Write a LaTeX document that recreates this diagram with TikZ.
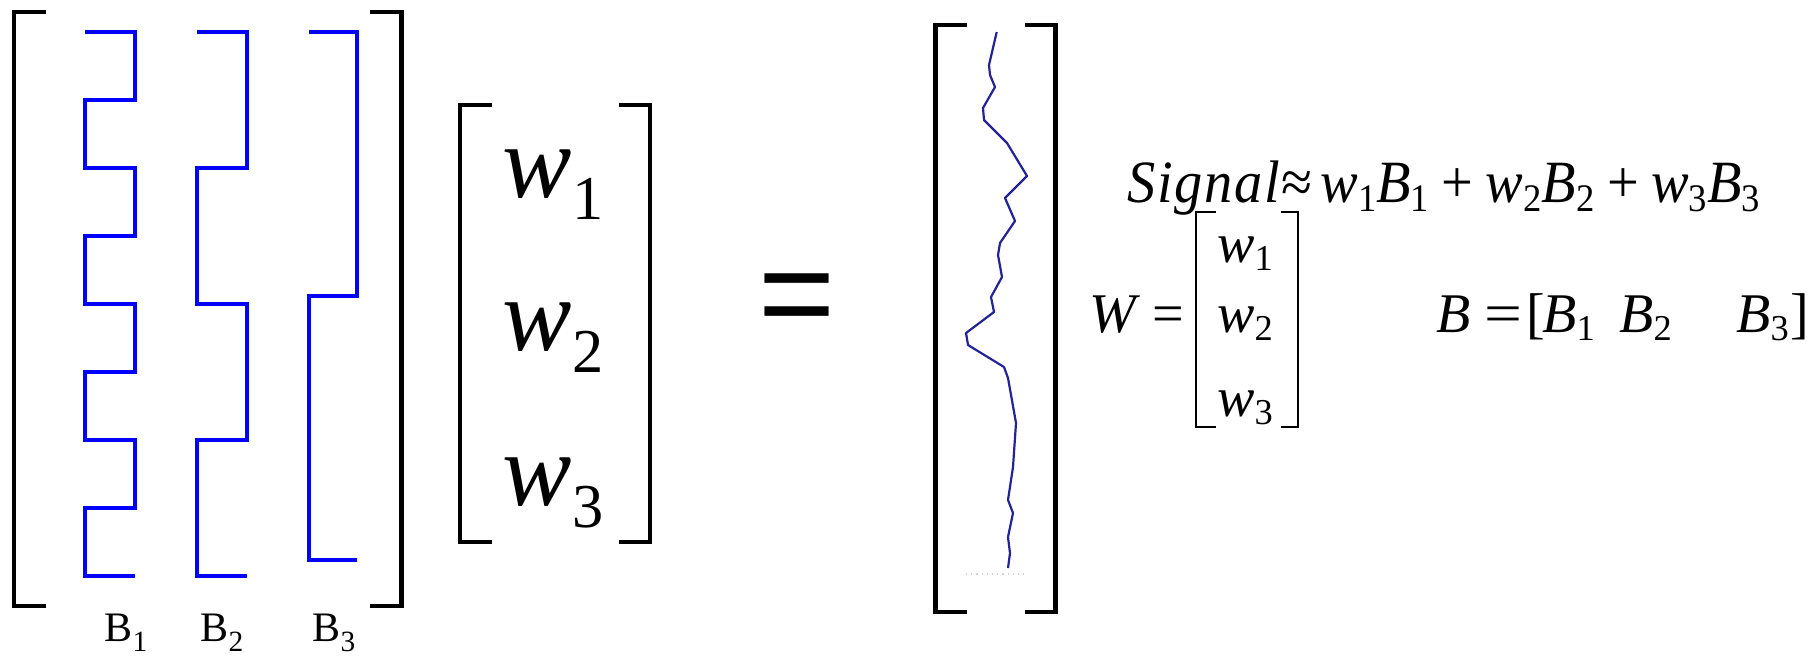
\documentclass[tikz,border=0pt]{standalone}
\usepackage{graphicx}
\usepackage{fontspec}
\setmainfont{Liberation Serif}
\newfontfamily\eqsans{Liberation Sans}

\definecolor{basisblue}{RGB}{0,0,255}
\definecolor{signalblue}{RGB}{35,35,150}

% lowered, shrunk subscript: #1 drop (em), #2 scale, #3 text
\newcommand{\lowsub}[3]{\raisebox{-#1em}{\scalebox{#2}{#3}}}
\newcommand{\eqfont}{\fontsize{30}{36}\selectfont}
\newcommand{\rowfont}{\fontsize{28}{34}\selectfont}

\tikzset{
    brk/.style={line width=2.25pt, line join=miter},
    thinbrk/.style={line width=1.6pt, line join=miter},
    basis/.style={basisblue, line width=2pt, line join=miter},
    txt/.style={inner sep=0pt, anchor=base},
    txtw/.style={inner sep=0pt, anchor=base west}
}

\begin{document}
\begin{tikzpicture}[x=0.5pt, y=-0.5pt]
    \useasboundingbox (0,0) rectangle (1814,660);

    % Draw basis matrix
    \draw[brk] (46,12) -- (14,12) -- (14,606) -- (46,606);
    \draw[brk] (370,12) -- (401.5,12) -- (401.5,606) -- (370,606);
    \draw[basis] (85,32) -| (135,100) -| (85,168) -| (135,236) -| (85,304)
        -| (135,372) -| (85,440) -| (135,508) -| (85,576) -- (135,576);
    \draw[basis] (197,32) -| (247,168) -| (197,304) -| (247,440) -| (197,576) -- (247,576);
    \draw[basis] (309,32) -| (357,296) -| (309,560) -- (357,560);

    % Labels
    \node[txt, font=\fontsize{21}{25}\selectfont] (lb1) at (126,641) {B\lowsub{0.25}{0.7}{1}};
    \node[txt, font=\fontsize{21}{25}\selectfont] (lb2) at (222,641) {B\lowsub{0.25}{0.7}{2}};
    \node[txt, font=\fontsize{21}{25}\selectfont] (lb3) at (334,641) {B\lowsub{0.25}{0.7}{3}};

    % Draw weight vector
    \draw[thinbrk] (492,105) -- (460,105) -- (460,542) -- (492,542);
    \draw[thinbrk] (619,105) -- (650,105) -- (650,542) -- (619,542);
    \node[txt, font=\fontsize{52}{60}\selectfont] (w1) at (553,197) {\textit{w}\lowsub{0.22}{0.6}{1}};
    \node[txt, font=\fontsize{52}{60}\selectfont] (w2) at (553,350) {\textit{w}\lowsub{0.22}{0.6}{2}};
    \node[txt, font=\fontsize{52}{60}\selectfont] (w3) at (553,505) {\textit{w}\lowsub{0.22}{0.6}{3}};

    \node[txt, font=\eqsans\fontsize{66}{70}\selectfont] (eq) at (797.5,338) {=};

    % Draw signal vector
    \draw[brk] (967,25) -- (935.7,25) -- (935.7,612) -- (967,612);
    \draw[brk] (1025,25) -- (1055.7,25) -- (1055.7,612) -- (1025,612);
    \draw[signalblue, line width=1.1pt, line join=round]
        (996.7,32) -- (989,65) -- (990,75) -- (995,87) -- (983,108) -- (984,120)
        -- (1007,143) -- (1027,176) -- (1005,198) -- (1015,221) -- (1000,243)
        -- (998,255) -- (1002,277) -- (991,297) -- (994,312) -- (966,333)
        -- (968,345) -- (1004,367) -- (1008,378) -- (1016,423) -- (1013,467)
        -- (1008,500) -- (1013,513) -- (1008,537) -- (1010,553) -- (1008,568);
    \draw[gray!35, dotted, line width=0.6pt] (966,574) -- (1027,574);

    % Signal equation
    \node[txtw, font=\eqfont] (sig) at (1127,202)
        {\scalebox{0.94}[1]{\textit{\addfontfeature{LetterSpace=3}Signal}≈\hspace{0.14em}%
        \textit{w}\lowsub{0.15}{0.65}{1}\textit{B}\lowsub{0.15}{0.65}{1}\hspace{0.22em}+\hspace{0.22em}%
        \textit{w}\lowsub{0.15}{0.65}{2}\textit{B}\lowsub{0.15}{0.65}{2}\hspace{0.22em}+\hspace{0.22em}%
        \textit{w}\lowsub{0.15}{0.65}{3}\textit{B}\lowsub{0.15}{0.65}{3}}};

    % W column
    \node[txtw, font=\rowfont] (Wvar) at (1089,332) {\textit{W}};
    \node[txtw, font=\rowfont] (Weq) at (1152,332) {=};
    \draw[thinbrk, line width=1.4pt] (1216,212) -- (1196,212) -- (1196,427) -- (1216,427);
    \draw[thinbrk, line width=1.4pt] (1281,212) -- (1298,212) -- (1298,427) -- (1281,427);
    \node[txt, font=\rowfont] (sw1) at (1245,262) {\textit{w}\lowsub{0.15}{0.65}{1}};
    \node[txt, font=\rowfont] (sw2) at (1245,332) {\textit{w}\lowsub{0.15}{0.65}{2}};
    \node[txt, font=\rowfont] (sw3) at (1245,416) {\textit{w}\lowsub{0.15}{0.65}{3}};

    % B row
    \node[txtw, font=\rowfont] (Bvar) at (1436,332) {\textit{B}};
    \node[txtw, font=\rowfont] (Beq) at (1484,332) {\scalebox{1.2}[1]{=}};
    \node[txtw, font=\rowfont] (lbr) at (1526,332) {[};
    \node[txtw, font=\rowfont] (Bb1) at (1542,332) {\textit{B}\lowsub{0.15}{0.65}{1}};
    \node[txtw, font=\rowfont] (Bb2) at (1619,332) {\textit{B}\lowsub{0.15}{0.65}{2}};
    \node[txtw, font=\rowfont] (Bb3) at (1736,332) {\textit{B}\lowsub{0.15}{0.65}{3}};
    \node[txtw, font=\rowfont] (rbr) at (1790,332) {]};
\end{tikzpicture}
\end{document}
